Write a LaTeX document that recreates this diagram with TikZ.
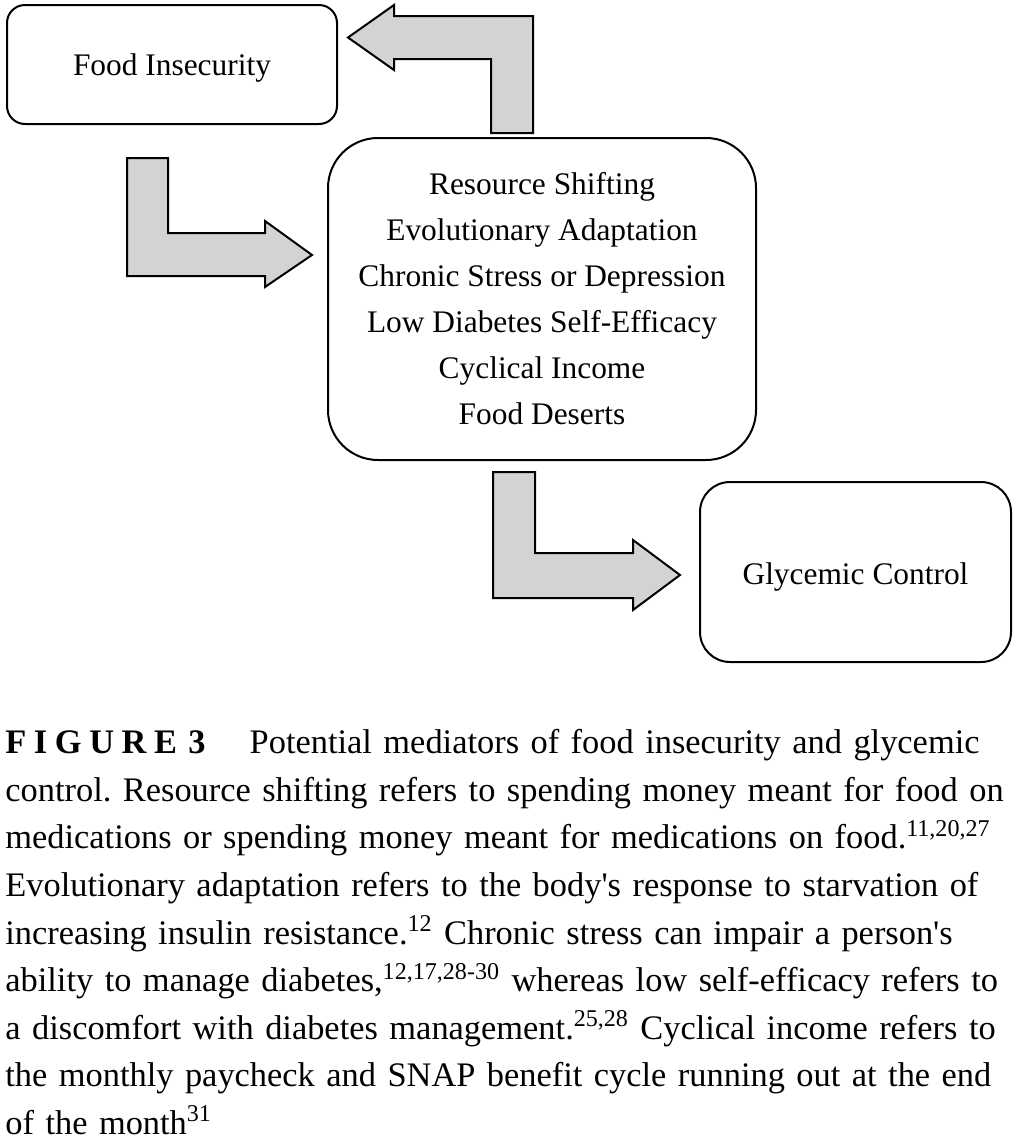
\documentclass[tikz,border=0pt]{standalone}
\usepackage{fontspec}
\setmainfont{Liberation Serif}
\definecolor{arrowgray}{RGB}{211,211,211}
\newcommand{\diagfont}{\fontsize{15.7pt}{23pt}\selectfont}
\newcommand{\capfont}{\fontsize{17.2pt}{23.8pt}\selectfont\frenchspacing}
\begin{document}
\begin{tikzpicture}[x=0.5pt, y=-0.5pt,
        box/.style = {draw,
            line width=1pt,
            rounded corners=9pt,
            inner sep=0pt,
            font=\diagfont},
        bigarrow/.style = {draw,
            line width=1pt,
            line join=miter,
            fill=arrowgray}]

    \useasboundingbox[fill=white] (0,0) rectangle (1013,1136);

    % Food insecurity
    \node[box, minimum width=165pt, minimum height=59.5pt, text height=14pt, text depth=3.5pt] (food) at (172,64.5) {Food Insecurity};

    % Mediators
    \node[box, rounded corners=25pt, minimum width=214pt, minimum height=161pt, align=center] (mediators) at (542,299)
        {Resource Shifting\\ Evolutionary Adaptation\\ Chronic Stress or Depression\\
         Low Diabetes Self-Efficacy\\ Cyclical Income\\ Food Deserts};

    % Glycemic control
    \node[box, rounded corners=15pt, minimum width=155.5pt, minimum height=90pt, text height=15.5pt, text depth=3.5pt] (glycemic) at (855.5,572) {Glycemic Control};

    % Arrow food insecurity -> mediators
    \path[bigarrow] (127,158) -- (168,158) -- (168,233) -- (265,233) -- (265,221)
        -- (312,255) -- (265,287) -- (265,276) -- (127,276) -- cycle;

    % Arrow mediators -> food insecurity
    \path[bigarrow] (491,133) -- (491,59) -- (394,59) -- (394,70) -- (348,37.5)
        -- (394,5) -- (394,16) -- (533,16) -- (533,133) -- cycle;

    % Arrow mediators -> glycemic control
    \path[bigarrow] (493,472) -- (535,472) -- (535,553) -- (633,553) -- (633,540)
        -- (680,575) -- (633,610) -- (633,598) -- (493,598) -- cycle;

    % Caption
    \node[anchor=north west, inner sep=0pt, text width=540pt, align=left, font=\capfont] (caption) at (5,729)
        {{\bfseries\addfontfeature{LetterSpace=22}FIGURE 3}\hspace{22pt}Potential mediators of food insecurity and glycemic\\
         control. Resource shifting refers to spending money meant for food on\\
         medications or spending money meant for medications on food.\textsuperscript{11,20,27}\\
         Evolutionary adaptation refers to the body\textquotesingle s response to starvation of\\
         increasing insulin resistance.\textsuperscript{12} Chronic stress can impair a person\textquotesingle s\\
         ability to manage diabetes,\textsuperscript{12,17,28-30} whereas low self-efficacy refers to\\
         a discomfort with diabetes management.\textsuperscript{25,28} Cyclical income refers to\\
         the monthly paycheck and SNAP benefit cycle running out at the end\\
         of the month\textsuperscript{31}};

\end{tikzpicture}
\end{document}
